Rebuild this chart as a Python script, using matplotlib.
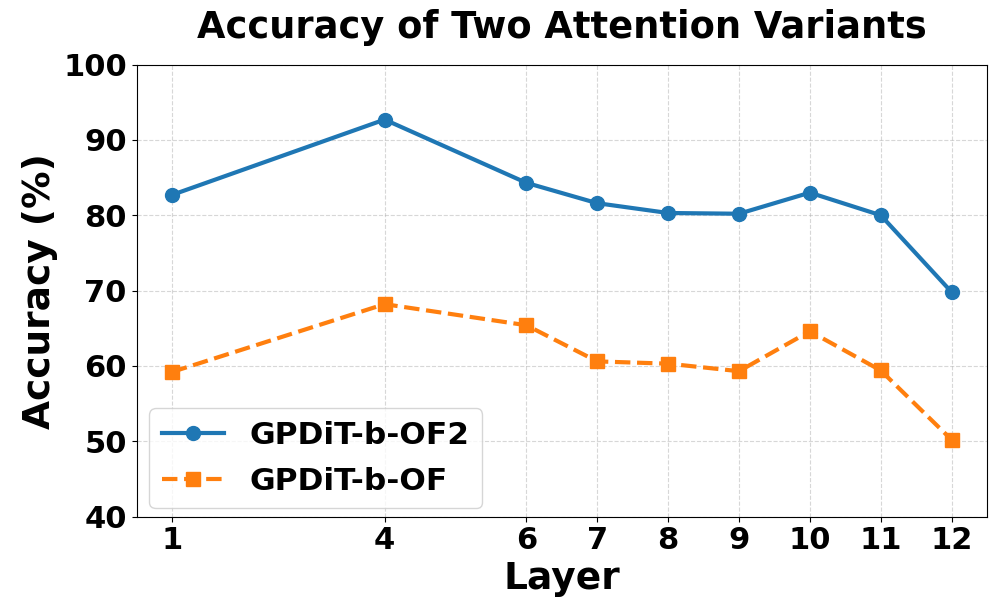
import matplotlib as mpl

mpl.use("Agg")
import matplotlib.pyplot as plt

layers = [1, 4, 6, 7, 8, 9, 10, 11, 12]
acc_of2 = [82.7, 92.7, 84.3, 81.6, 80.3, 80.2, 83.0, 80.0, 69.8]
acc_of = [59.2, 68.2, 65.4, 60.6, 60.3, 59.3, 64.6, 59.4, 50.2]
y_ticks = [40, 50, 60, 70, 80, 90, 100]

plt.rcParams.update({"font.weight": "bold", "axes.labelweight": "bold", "axes.titleweight": "bold"})

fig, ax = plt.subplots(figsize=(9.97, 6.15), dpi=100)
ax.plot(layers, acc_of2, "-o", color="#1f77b4", lw=3, ms=10, label="GPDiT-b-OF2")
ax.plot(layers, acc_of, "--s", color="#ff7f0e", lw=3, ms=10, label="GPDiT-b-OF")

ax.set_xlim(0.5, 12.5)
ax.set_ylim(40, 100)
ax.set_xticks(layers)
ax.set_yticks(y_ticks)
ax.tick_params(labelsize=22)
ax.grid(True, ls="--", alpha=0.5)
ax.set_xlabel("Layer", fontsize=27)
ax.set_ylabel("Accuracy (%)", fontsize=27)
ax.set_title("Accuracy of Two Attention Variants", fontsize=26.5, pad=19)
ax.legend(loc="lower left", fontsize=22.5, bbox_to_anchor=(0.015, 0.018), borderaxespad=0,
          labelspacing=0.55)

fig.subplots_adjust(left=0.137, right=0.99, top=0.895, bottom=0.16)
fig.savefig("out.png", dpi=100)
